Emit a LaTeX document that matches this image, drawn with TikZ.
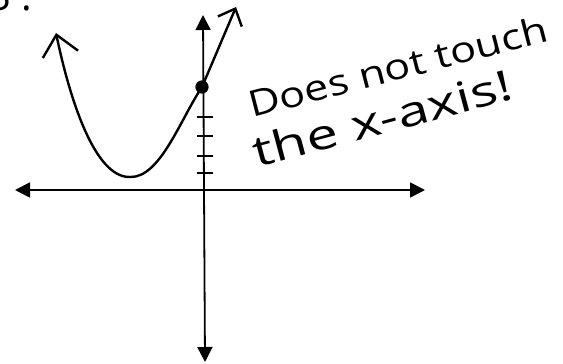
\documentclass[tikz,border=0pt]{standalone}
\usepackage{fontspec}
\setmainfont{Open Sans}
\usetikzlibrary{arrows.meta}
\begin{document}
\begin{tikzpicture}[x=1pt, y=-1pt]
	\tikzstyle{achse} = [line width=1.8pt, {Triangle[length=15pt,width=15pt]}-{Triangle[length=15pt,width=15pt]}]
	\tikzstyle{kurve} = [line width=2.4pt, line cap=round, {Straight Barb[length=20pt,width=36pt]}-{Straight Barb[length=14pt,width=26pt]}]
	\tikzstyle{punkt} = [draw, fill, shape=circle, minimum size=12pt, inner sep=0pt, line width=1.2pt]
	\tikzstyle{notiz} = [anchor=base west, inner sep=0pt]
  \useasboundingbox (0,0) rectangle (563,364);
  \clip (0,0) rectangle (563,364);

  % Achsen
  \coordinate (xl) at (15,190);
  \coordinate (xr) at (425,190);
  \coordinate (yo) at (203,15);
  \coordinate (yu) at (205,362);
  \draw[achse] (xl) -- (xr);
  \draw[achse] (yo) -- (yu);
  \foreach \y in {117,136,156,173}
    \draw[line width=1.8pt] (197,\y) -- (213,\y);

  % Parabel
  \coordinate (pl) at (56,33);
  \coordinate (pv) at (130,177);
  \coordinate (pr) at (236,7);
  \node[punkt] (s) at (202,87) {};
  \draw[kurve] (pl) .. controls (70,100) and (95,178) .. (pv)
    .. controls (160,178) and (180,120) .. (s.center) -- (pr);

  % Text
  \node[notiz, font=\fontsize{40}{40}\selectfont] (nr) at (-12,10) {3\hspace{10pt}.};
  \node[notiz, rotate=14.5, xscale=1.2, font=\fontsize{36}{36}\selectfont] (t1) at (252,118) {Does not touch};
  \node[notiz, rotate=15, xscale=1.35, font=\fontsize{42}{42}\selectfont] (t2) at (257,168) {the x-axis!};
\end{tikzpicture}
\end{document}
